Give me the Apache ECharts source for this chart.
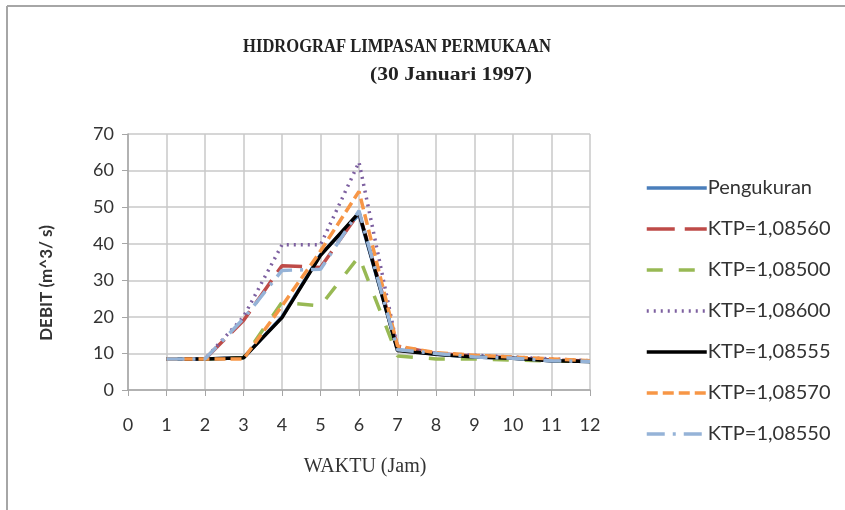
<!DOCTYPE html>
<html>
<head>
<meta charset="utf-8">
<script src="https://cdn.jsdelivr.net/npm/echarts@6/dist/echarts.min.js"></script>
<style>
  html, body { margin: 0; padding: 0; background: #fff; }
  #main { width: 845px; height: 510px; }
</style>
</head>
<body>
<div id="main"></div>
<script>
// hours (x) and debit values
const jam = [1, 2, 3, 4, 5, 6, 7, 8, 9, 10, 11, 12];
const pengukuran = [8.5, 8.5, 8.8, 20, 37, 48, 11, 9.8, 9, 8.7, 8, 7.8];
const ktp08560 = [8.5, 8.5, 19, 34, 33.5, 48.5, 12, 10, 9.3, 8.8, 8.2, 7.9];
const ktp08500 = [8.5, 8.5, 8.8, 24, 23, 36.5, 9.3, 8.5, 8.5, 8.2, 7.9, 7.8];
const ktp08600 = [8.5, 8.5, 20, 39.7, 39.7, 62.3, 11.5, 10, 9.5, 9, 8.5, 8];
const ktp08555 = [8.5, 8.5, 8.8, 19.8, 36.8, 48.5, 10.8, 9.8, 9, 8.7, 8, 7.8];
const ktp08570 = [8.5, 8.5, 8.5, 23, 38, 54.3, 12, 10.2, 9.5, 9, 8.5, 8];
const ktp08550 = [8.5, 8.5, 19.5, 32.7, 33, 49, 11, 10, 9, 8.7, 8, 7.8];

const pts = arr => jam.map((x, i) => [x, arr[i]]);

const chart = echarts.init(document.getElementById('main'));

function line(name, data, color, type) {
    return {
        name: name,
        type: 'line',
        data: pts(data),
        symbol: 'none',
        animation: false,
        lineStyle: { color: color, width: 3.5, type: type },
        itemStyle: { color: color }
    };
}

const serif = 'Liberation Serif';

const option = {
    backgroundColor: '#fff',
    graphic: [
        { type: 'line', shape: { x1: 7, y1: 6, x2: 845, y2: 6 }, style: { stroke: '#a6a6a6', lineWidth: 2 } },
        { type: 'line', shape: { x1: 7, y1: 6, x2: 7, y2: 510 }, style: { stroke: '#a6a6a6', lineWidth: 2 } },
        // title lines (the picture has them at different widths)
        {
            type: 'text', x: 397, y: 47, scaleX: 0.92,
            style: {
                text: 'HIDROGRAF LIMPASAN PERMUKAAN', fill: '#222', fontFamily: serif, fontWeight: 'bold',
                fontSize: 18, align: 'center', verticalAlign: 'middle'
            }
        },
        {
            type: 'text', x: 451, y: 75, scaleX: 1.2,
            style: {
                text: '(30 Januari 1997)', fill: '#222', fontFamily: serif, fontWeight: 'bold',
                fontSize: 18, align: 'center', verticalAlign: 'middle'
            }
        },
        {
            type: 'text', x: 47, y: 283, rotation: Math.PI / 2,
            style: {
                text: 'DEBIT (m^3/ s)', fill: '#333', fontFamily: 'Lato', fontWeight: 'bold', fontSize: 17,
                align: 'center', verticalAlign: 'middle'
            }
        },
        {
            type: 'text', x: 365, y: 467,
            style: {
                text: 'WAKTU (Jam)', fill: '#333', fontFamily: serif, fontSize: 20,
                align: 'center', verticalAlign: 'middle'
            }
        }
    ],
    legend: {
        orient: 'vertical',
        left: 640,
        top: 173,
        itemWidth: 60,
        itemHeight: 14,
        itemGap: 21,
        itemStyle: { opacity: 0 },
        lineStyle: { width: 3.5 },
        textStyle: { fontFamily: 'Lato', fontSize: 20, color: '#333', padding: [0, 0, 0, -4] },
        data: ['Pengukuran', 'KTP=1,08560', 'KTP=1,08500', 'KTP=1,08600', 'KTP=1,08555', 'KTP=1,08570', 'KTP=1,08550']
    },
    grid: { left: 128, right: 255, top: 134, bottom: 120 },
    xAxis: {
        type: 'value',
        min: 0,
        max: 12,
        interval: 1,
        axisLine: { lineStyle: { color: '#a6a6a6', width: 1.5 } },
        axisTick: { show: true, length: 6, lineStyle: { color: '#a6a6a6' } },
        axisLabel: { margin: 26, fontFamily: 'Lato', fontSize: 18, color: '#333' },
        splitLine: { show: true, lineStyle: { color: '#c8c8c8', width: 1.5 } }
    },
    yAxis: {
        type: 'value',
        min: 0,
        max: 70,
        interval: 10,
        axisLine: { show: true, lineStyle: { color: '#a6a6a6', width: 1.5 } },
        axisTick: { show: true, length: 6, lineStyle: { color: '#a6a6a6' } },
        axisLabel: { margin: 14, fontFamily: 'Lato', fontSize: 18, color: '#333' },
        splitLine: { show: true, lineStyle: { color: '#c8c8c8', width: 1.5 } }
    },
    series: [
        line('Pengukuran', pengukuran, '#4a7ebb', 'solid'),
        line('KTP=1,08560', ktp08560, '#be4b48', [28, 10]),
        line('KTP=1,08500', ktp08500, '#98b954', [16, 16]),
        line('KTP=1,08600', ktp08600, '#7d60a0', [2, 5]),
        line('KTP=1,08555', ktp08555, '#000000', 'solid'),
        line('KTP=1,08570', ktp08570, '#f79646', [11, 5]),
        line('KTP=1,08550', ktp08550, '#95b3d7', [18, 8, 3, 8])
    ]
};

chart.setOption(option);
</script>
</body>
</html>
